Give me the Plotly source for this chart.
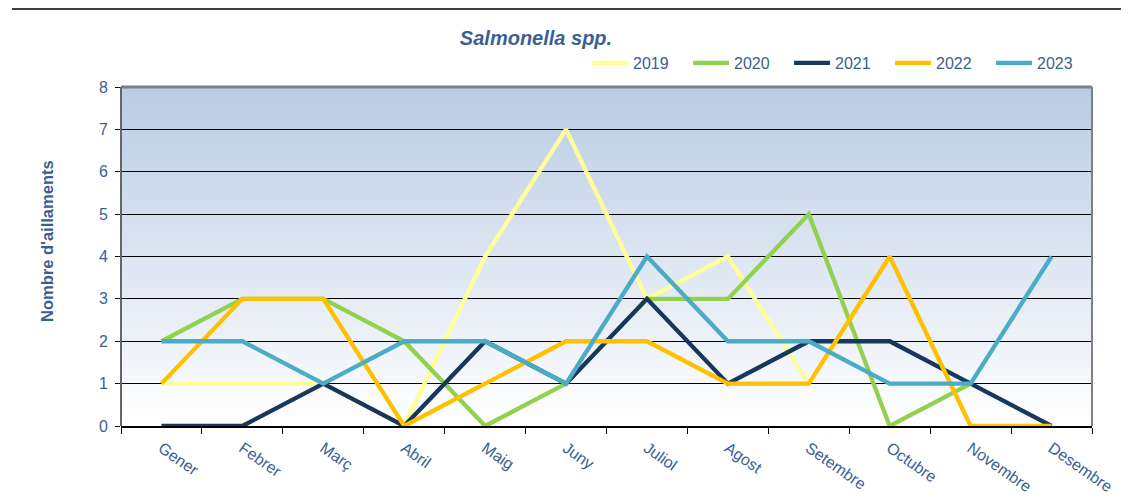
import plotly.graph_objects as go

months = ["Gener", "Febrer", "Març", "Abril", "Maig", "Juny", "Juliol",
          "Agost", "Setembre", "Octubre", "Novembre", "Desembre"]
y2019 = [1, 1, 1, 0, 4, 7, 3, 4, 1, None, None, None]
y2020 = [2, 3, 3, 2, 0, 1, 3, 3, 5, 0, 1, None]
y2021 = [0, 0, 1, 0, 2, 1, 3, 1, 2, 2, 1, 0]
y2022 = [1, 3, 3, 0, 1, 2, 2, 1, 1, 4, 0, 0]
y2023 = [2, 2, 1, 2, 2, 1, 4, 2, 2, 1, 1, 4]
series = [("2019", y2019, "#FFFF99"), ("2020", y2020, "#92D050"),
          ("2021", y2021, "#17375E"), ("2022", y2022, "#FFC000"),
          ("2023", y2023, "#4BACC6")]

txt = "#3A5F92"
W, H = 1121, 493
L, R, T, B = 113, 37, 79, 75
PH = H - T - B

fig = go.Figure()
for name, vals, col in series:
    fig.add_trace(go.Scatter(x=months, y=vals, name=name, mode="lines",
                             line=dict(color=col, width=4.3)))

# gradient background
shapes = []
n = 60
top = (185, 204, 228)
bot = (255, 255, 255)
for i in range(n):
    t = i / (n - 1)
    c = tuple(int(round(bot[k] + (top[k] - bot[k]) * t)) for k in range(3))
    shapes.append(dict(type="rect", xref="x domain", yref="y domain",
                       x0=0, x1=1, y0=i / n, y1=(i + 1) / n + 0.002,
                       fillcolor="rgb(%d,%d,%d)" % c, line=dict(width=0),
                       layer="below"))
shapes.append(dict(type="line", xref="x domain", yref="y domain", x0=0, x1=1,
                   y0=1, y1=1, line=dict(color="#808080", width=3)))
shapes.append(dict(type="line", xref="x domain", yref="y domain", x0=1, x1=1,
                   y0=0, y1=1, line=dict(color="#808080", width=2)))
shapes.append(dict(type="line", xref="x domain", yref="y domain", x0=0, x1=0,
                   y0=0, y1=1, line=dict(color="#666666", width=2)))
# outer frame (top line and left edge)
top_y = (H - B - 1) / PH
shapes.append(dict(type="line", xref="paper", yref="paper", x0=-L / 971 + 4 / 971,
                   x1=1.05, y0=top_y, y1=top_y,
                   line=dict(color="#000000", width=1.5)))
shapes.append(dict(type="line", xref="paper", yref="paper", x0=-L / 971 - 4 / 971,
                   x1=-L / 971 - 4 / 971, y0=-0.3, y1=top_y,
                   line=dict(color="#888888", width=1)))

fig.update_layout(
    width=W, height=H,
    margin=dict(l=L, r=R, t=T, b=B, autoexpand=False),
    paper_bgcolor="white", plot_bgcolor="white",
    font=dict(family="Liberation Sans, Arial, sans-serif", color=txt),
    title=dict(text="<b><i>Salmonella spp.</i></b>", x=(536 - 8) / W,
               xanchor="center", y=1 - 30 / H, yanchor="middle",
               font=dict(size=20, color=txt)),
    legend=dict(orientation="h", x=1.0, xanchor="right", y=(PH + T - 55) / PH,
                yanchor="middle", font=dict(size=16, color=txt),
                bgcolor="rgba(0,0,0,0)", itemwidth=36, entrywidth=50,
                traceorder="normal"),
    shapes=shapes,
)
fig.update_xaxes(type="category", tickangle=35, tickson="boundaries",
                 ticks="outside", ticklen=6, tickcolor="black",
                 showline=True, linecolor="black", linewidth=1.5,
                 showgrid=False, tickfont=dict(size=16, color=txt),
                 ticklabelstandoff=5, automargin=False,
                 range=[-0.5, 11.5])
fig.update_yaxes(range=[0, 8], dtick=1, ticks="outside", ticklen=5,
                 tickcolor="black", showgrid=True, gridcolor="black",
                 gridwidth=1, zeroline=False, showline=False,
                 ticklabelstandoff=4, automargin=False,
                 tickfont=dict(size=16, color=txt))
fig.add_annotation(text="<b>Nombre d'aillaments</b>", xref="paper", yref="paper",
                   x=(47 - 121) / 971, y=(426 - 241) / PH, textangle=-90,
                   xanchor="center", yanchor="middle",
                   showarrow=False, font=dict(size=16.5, color=txt))
fig.write_html("out.html")
